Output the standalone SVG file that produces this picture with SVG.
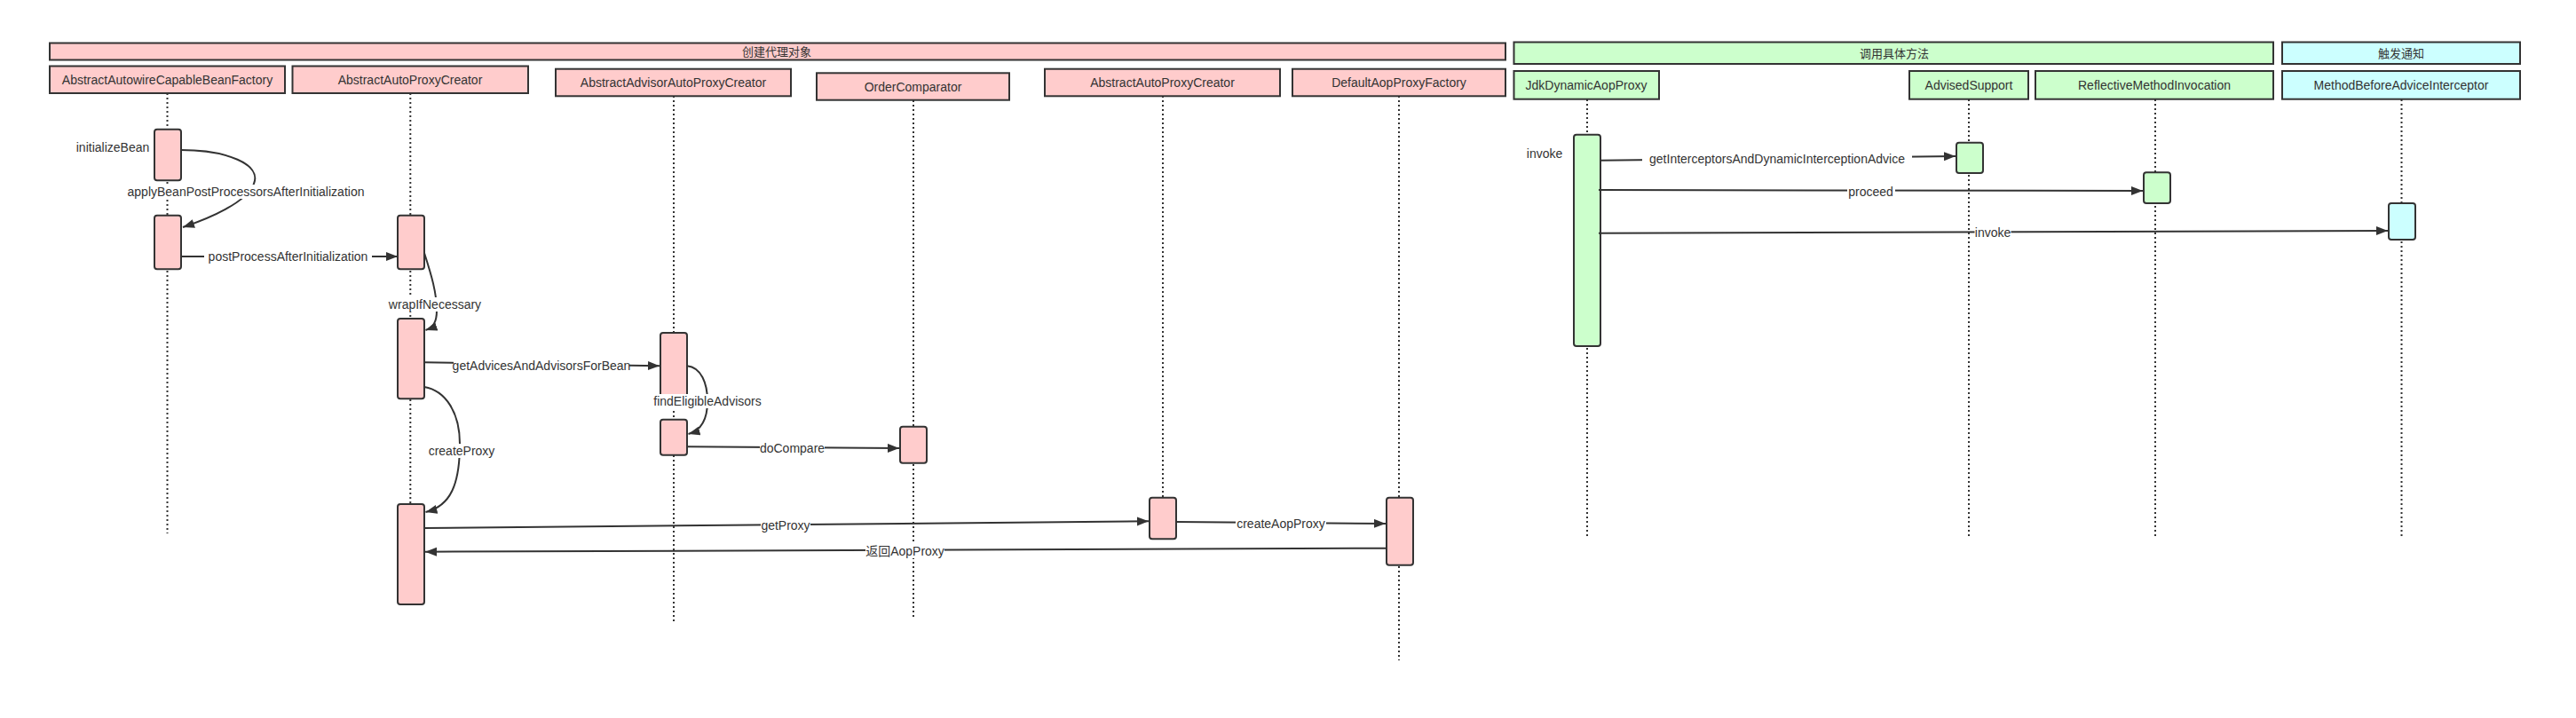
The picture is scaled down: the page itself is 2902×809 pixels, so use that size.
<svg xmlns="http://www.w3.org/2000/svg" width="2902" height="809" viewBox="0 0 2902 809">
<defs>
<marker id="arr" markerUnits="userSpaceOnUse" markerWidth="14" markerHeight="11" refX="13" refY="5" orient="auto"><path d="M0,0 L13,5 L0,10 z" fill="#333"/></marker>
<style>
text{font-family:"Liberation Sans","Noto Sans CJK SC",sans-serif;font-size:14px;fill:#333;text-anchor:middle;dominant-baseline:central}
.hd{font-size:13px}
.pink{fill:#FFCCCC;stroke:#333;stroke-width:2}
.green{fill:#CCFFCC;stroke:#333;stroke-width:2}
.cyan{fill:#CCFFFF;stroke:#333;stroke-width:2}
.life{stroke:#333;stroke-width:2;stroke-dasharray:2 3;fill:none}
.msg{stroke:#333;stroke-width:2;fill:none;marker-end:url(#arr)}
.lbg{fill:#fff}
</style>
</defs>
<rect width="2902" height="809" fill="#fff"/>
<g id="lifelines">
<line class="life" x1="188.5" y1="105" x2="188.5" y2="601"/>
<line class="life" x1="462.3" y1="105" x2="462.3" y2="568"/>
<line class="life" x1="759" y1="108" x2="759" y2="703"/>
<line class="life" x1="1029" y1="113" x2="1029" y2="698"/>
<line class="life" x1="1310" y1="108" x2="1310" y2="561"/>
<line class="life" x1="1576" y1="108" x2="1576" y2="744"/>
<line class="life" x1="1788" y1="112" x2="1788" y2="607"/>
<line class="life" x1="2218" y1="112" x2="2218" y2="607"/>
<line class="life" x1="2428" y1="112" x2="2428" y2="607"/>
<line class="life" x1="2705.5" y1="112" x2="2705.5" y2="607"/>
</g>
<g id="group-create">
<rect class="pink" x="56" y="48.5" width="1640" height="19"/>
<text class="hd" x="875" y="58">创建代理对象</text>
</g>
<g id="group-invoke">
<rect class="green" x="1705.5" y="47.5" width="855.5" height="24.5"/>
<text class="hd" x="2134" y="60">调用具体方法</text>
</g>
<g id="group-notify">
<rect class="cyan" x="2571" y="47.5" width="268" height="24.5"/>
<text class="hd" x="2705" y="60">触发通知</text>
</g>
<g id="node-aacbf"><rect class="pink" x="56" y="74.5" width="265" height="30.5"/><text x="188.5" y="90">AbstractAutowireCapableBeanFactory</text></g>
<g id="node-aapc1"><rect class="pink" x="329.5" y="74.5" width="265.5" height="30.5"/><text x="462" y="90">AbstractAutoProxyCreator</text></g>
<g id="node-aaapc"><rect class="pink" x="626" y="77.7" width="265" height="30.6"/><text x="758.5" y="93">AbstractAdvisorAutoProxyCreator</text></g>
<g id="node-oc"><rect class="pink" x="920" y="82.3" width="217" height="30.4"/><text x="1028.5" y="97.5">OrderComparator</text></g>
<g id="node-aapc2"><rect class="pink" x="1177" y="77.7" width="265" height="30.6"/><text x="1309.5" y="93">AbstractAutoProxyCreator</text></g>
<g id="node-dapf"><rect class="pink" x="1456" y="77.7" width="240" height="30.6"/><text x="1576" y="93">DefaultAopProxyFactory</text></g>
<g id="node-jdk"><rect class="green" x="1705.5" y="80" width="163.5" height="31.7"/><text x="1787" y="96">JdkDynamicAopProxy</text></g>
<g id="node-as"><rect class="green" x="2151" y="80" width="134" height="31.7"/><text x="2218" y="96">AdvisedSupport</text></g>
<g id="node-rmi"><rect class="green" x="2293" y="80" width="268" height="31.7"/><text x="2427" y="96">ReflectiveMethodInvocation</text></g>
<g id="node-mbai"><rect class="cyan" x="2571" y="80" width="268" height="31.7"/><text x="2705" y="96">MethodBeforeAdviceInterceptor</text></g>
<g id="activations">
<rect class="pink" x="174" y="145.7" width="30" height="57.6" rx="3"/>
<rect class="pink" x="174" y="242.7" width="30" height="60.6" rx="3"/>
<rect class="pink" x="448" y="242.7" width="30" height="60.6" rx="3"/>
<rect class="pink" x="448" y="359" width="30" height="90.3" rx="3"/>
<rect class="pink" x="448" y="568" width="30" height="113" rx="3"/>
<rect class="pink" x="744" y="375" width="30" height="77" rx="3"/>
<rect class="pink" x="744" y="472.7" width="30" height="40" rx="3"/>
<rect class="pink" x="1014" y="480.7" width="30" height="41" rx="3"/>
<rect class="pink" x="1295" y="560.7" width="30" height="46.6" rx="3"/>
<rect class="pink" x="1562" y="560.7" width="30" height="76" rx="3"/>
<rect class="green" x="1773" y="151.7" width="30" height="238.3" rx="3"/>
<rect class="green" x="2204" y="160.7" width="30" height="34.3" rx="3"/>
<rect class="green" x="2415" y="194.3" width="30" height="34.7" rx="3"/>
<rect class="cyan" x="2691" y="229" width="30" height="41" rx="3"/>
</g>
<g id="connectors">
<path class="msg" d="M204,169 C255,169 295,185 286,207 C278,228 236,246 206,256"/>
<path class="msg" d="M204,289 L448,289"/>
<path class="msg" d="M478,285 C486,310 492,330 492,350 C492,363 488,369 479.5,372"/>
<path class="msg" d="M478,408.3 L743,412.3"/>
<path class="msg" d="M774,412.3 C790,414 797,432 797,452 C797,472 790,485 775.5,489"/>
<path class="msg" d="M774,503.3 L1013,505"/>
<path class="msg" d="M478,436 C502,440 518,465 518,500 C518,545 508,570 479.5,577"/>
<path class="msg" d="M478,595 L1294,587.3"/>
<path class="msg" d="M1325,588 L1561,590"/>
<path class="msg" d="M1562,617.7 L479,621.7"/>
<path class="msg" d="M1803,180.7 L2203,176"/>
<path class="msg" d="M1801,214 L2414,215"/>
<path class="msg" d="M1801,262.7 L2690,260"/>
</g>
<g id="labels">
<text x="127" y="166">initializeBean</text>
<rect class="lbg" x="141" y="208" width="272" height="16"/><text x="277" y="216">applyBeanPostProcessorsAfterInitialization</text>
<rect class="lbg" x="230" y="281" width="189" height="16"/><text x="324.5" y="289">postProcessAfterInitialization</text>
<rect class="lbg" x="438" y="335" width="104" height="16"/><text x="490" y="343">wrapIfNecessary</text>
<rect class="lbg" x="511" y="403" width="198" height="16"/><text x="610" y="411.5">getAdvicesAndAdvisorsForBean</text>
<rect class="lbg" x="738" y="444" width="118" height="16"/><text x="797" y="452">findEligibleAdvisors</text>
<rect class="lbg" x="856" y="497" width="73" height="16"/><text x="892.5" y="505">doCompare</text>
<rect class="lbg" x="482" y="500" width="76" height="16"/><text x="520" y="508">createProxy</text>
<rect class="lbg" x="857" y="584" width="56" height="16"/><text x="885" y="592">getProxy</text>
<rect class="lbg" x="1392" y="582" width="102" height="16"/><text x="1443" y="590">createAopProxy</text>
<rect class="lbg" x="975" y="613" width="89" height="16"/><text x="1019.5" y="621">返回AopProxy</text>
<text x="1740" y="172.5">invoke</text>
<rect class="lbg" x="1850" y="171" width="304" height="16"/><text x="2002" y="179">getInterceptorsAndDynamicInterceptionAdvice</text>
<rect class="lbg" x="2081" y="207.5" width="54" height="16"/><text x="2107.5" y="215.5">proceed</text>
<rect class="lbg" x="2224.5" y="253.5" width="41" height="16"/><text x="2245" y="261.5">invoke</text>
</g>
</svg>
